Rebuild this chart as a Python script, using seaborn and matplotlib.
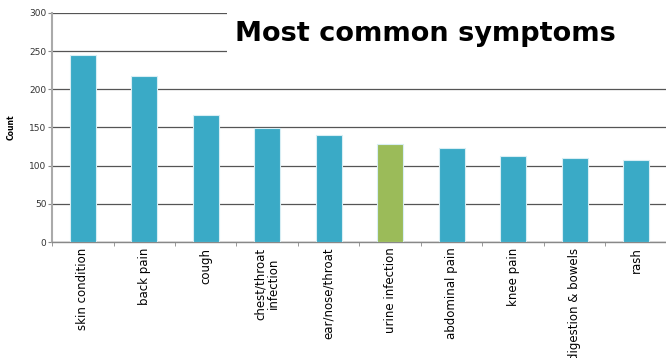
import matplotlib
matplotlib.use("Agg")
import matplotlib.pyplot as plt
import seaborn as sns
import pandas as pd
from matplotlib.patches import Rectangle
from matplotlib.ticker import FixedLocator

symptoms = ["skin condition", "back pain", "cough", "chest/throat\ninfection",
            "ear/nose/throat", "urine infection", "abdominal pain", "knee pain",
            "digestion & bowels", "rash"]
counts = [245, 218, 166, 149, 140, 128, 123, 113, 110, 108]
highlight = ["no", "no", "no", "no", "no", "yes", "no", "no", "no", "no"]
yticks = [0, 50, 100, 150, 200, 250, 300]

df = pd.DataFrame({"symptom": symptoms, "count": counts, "hl": highlight})

sns.set_style("white")
plt.rcParams["text.color"] = "black"
plt.rcParams["xtick.color"] = "black"
plt.rcParams["ytick.color"] = "black"
fig = plt.figure(figsize=(6.66, 3.58), dpi=100)
ax = fig.add_axes([52/666, 1 - 242/358, 615/666, (242-13)/358])

sns.barplot(data=df, x="symptom", y="count", hue="hl",
            palette={"no": "#3AAAC6", "yes": "#9BBB59"}, saturation=1,
            width=0.42, dodge=False, legend=False, ax=ax,
            edgecolor="#d8eef4", linewidth=0.8, zorder=3)

ax.set_ylim(0, 300)
ax.set_xlim(-0.5, len(symptoms) - 0.5)
ax.set_yticks(yticks)
ax.set_yticklabels([str(v) for v in yticks], fontsize=6.5, color="#333333")
ax.yaxis.grid(True, color="#555555", linewidth=0.9, zorder=0)
ax.set_axisbelow(True)
for s in ["top", "right"]:
    ax.spines[s].set_visible(False)
ax.spines["left"].set_color("#aaaaaa")
ax.spines["left"].set_linewidth(1.5)
ax.spines["bottom"].set_color("#888888")
ax.spines["bottom"].set_linewidth(1.0)

ax.set_xticks(range(len(symptoms)))
ax.set_xticklabels(symptoms, rotation=90, fontsize=8.5, va="top", ha="center",
                   linespacing=1.0, color="black")
ax.xaxis.set_minor_locator(FixedLocator([i + 0.5 for i in range(-1, len(symptoms))]))
ax.tick_params(axis="x", which="major", length=0, pad=4)
ax.tick_params(axis="x", which="minor", length=3, color="#888888", direction="out", bottom=True)
ax.tick_params(axis="y", length=3, color="#888888", direction="out", left=True, pad=1)
ax.set_xlabel("")
ax.set_ylabel("Count", fontsize=5.5, fontweight="bold", labelpad=10, color="black")

fig.patches.append(Rectangle((227/666, 1 - 62/358), 1 - 227/666, 62/358,
                             transform=fig.transFigure, facecolor="white",
                             edgecolor="none", zorder=5))
fig.text(235/666, 1 - 34/358, "Most common symptoms", fontsize=19.5,
         fontweight="bold", family="DejaVu Sans", va="center", ha="left",
         color="black", zorder=6)

fig.savefig("out.png", dpi=100)
